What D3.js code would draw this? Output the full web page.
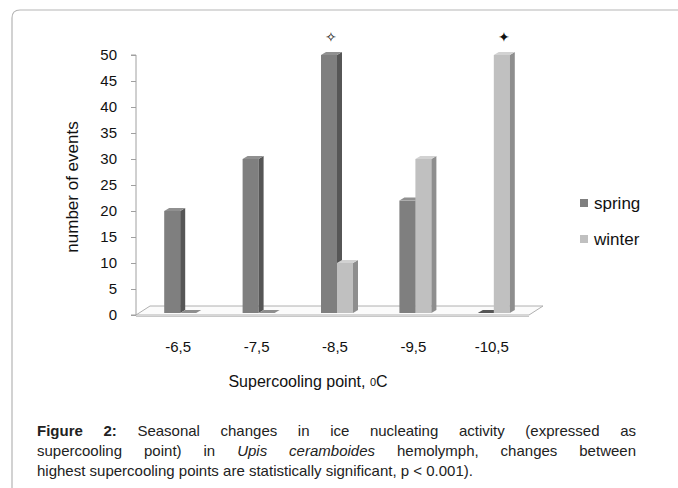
<!DOCTYPE html>
<html><head><meta charset="utf-8">
<script src="https://cdn.jsdelivr.net/npm/d3@7"></script>
<style>
html,body{margin:0;padding:0;background:#fff;}
svg text{font-family:"Liberation Sans",Arial,sans-serif;}
</style></head>
<body>
<svg id="c" width="678" height="488"></svg>
<script>
const categories = ["-6,5","-7,5","-8,5","-9,5","-10,5"];
const seriesNames = ["spring","winter"];
const spring = [20, 30, 50, 22, 0];
const winter = [0, 0, 10, 30, 50];
const yTicks = [0,5,10,15,20,25,30,35,40,45,50];
const markers = [{cat:"-8,5", series:"spring", glyph:"\u2727"}, {cat:"-10,5", series:"winter", glyph:"\u2726"}];
const yTitle = "number of events";
const xTitle = "Supercooling point, ";
const captionLines = [
  [["Figure","b"],["2:","b"],["Seasonal"],["changes"],["in"],["ice"],["nucleating"],["activity"],["(expressed"],["as"]],
  [["supercooling"],["point)"],["in"],["Upis","i"],["ceramboides","i"],["hemolymph,"],["changes"],["between"]],
  [["highest"],["supercooling"],["points"],["are"],["statistically"],["significant,"],["p"],["<"],["0.001)."]]
];

const svg = d3.select("#c");
const colors = {
  spring:{front:"#7f7f7f", side:"#565656", top:"#909090"},
  winter:{front:"#c0c0c0", side:"#8e8e8e", top:"#d2d2d2"}
};

// frame
svg.append("path")
  .attr("d","M12,700 L12,18 Q12,10 20,10 L700,10")
  .attr("fill","none").attr("stroke","#b5b5b5").attr("stroke-width",1.2);

const y = d3.scaleLinear().domain([0,50]).range([315,55]);
const x = d3.scaleBand().domain(categories).range([141,533]);
const xs = d3.scaleBand().domain(seriesNames).range([-16,16]);
const dx = 5, dy = 3;

// floor
const fl = [[136,315],[529,315],[543,306],[150,306]];
svg.append("polygon").attr("points",fl.map(p=>p.join(",")).join(" "))
  .attr("fill","#fbfbfb").attr("stroke","#b0b0b0").attr("stroke-width",1);
svg.append("line").attr("x1",136).attr("x2",529).attr("y1",316.5).attr("y2",316.5).attr("stroke","#c8c8c8");

// y axis
const yAxis = d3.axisLeft(y).tickValues(yTicks).tickSize(5).tickPadding(14);
const gy = svg.append("g").attr("transform","translate(136,0)").call(yAxis);
gy.select(".domain").attr("stroke","#a0a0a0").attr("d","M-5,55H0V315H-5");
gy.selectAll(".tick line").attr("stroke","#a0a0a0");
gy.selectAll(".tick text").attr("font-size",15).attr("fill","#111").attr("font-family","Liberation Sans, Arial, sans-serif");

// bars
const data = [];
categories.forEach((c,i)=>{
  data.push({cat:c, s:"spring", v:spring[i]});
  data.push({cat:c, s:"winter", v:winter[i]});
});
const base = y(0)-2;
const g = svg.append("g");
data.forEach(d=>{
  const x0 = x(d.cat) + x.bandwidth()/2 + xs(d.s);
  const w = xs.bandwidth();
  const yt = Math.min(y(d.v), base-1);
  const col = colors[d.s];
  if (d.v > 0) {
    g.append("rect").attr("x",x0).attr("y",yt).attr("width",w).attr("height",base-yt).attr("fill",col.front);
    g.append("polygon").attr("points",[[x0+w,yt],[x0+w+dx,yt-dy],[x0+w+dx,base-dy],[x0+w,base]].map(p=>p.join(",")).join(" ")).attr("fill",col.side);
    g.append("polygon").attr("points",[[x0,yt],[x0+dx,yt-dy],[x0+w+dx,yt-dy],[x0+w,yt]].map(p=>p.join(",")).join(" ")).attr("fill",col.top);
  } else {
    g.append("polygon").attr("points",[[x0,base],[x0+dx,base-dy],[x0+w+dx,base-dy],[x0+w,base]].map(p=>p.join(",")).join(" ")).attr("fill",col.side);
  }
});

// markers
markers.forEach(m=>{
  const xm = x(m.cat) + x.bandwidth()/2 + xs(m.series) + xs.bandwidth()/2 + 2;
  const v = m.series==="spring" ? spring[categories.indexOf(m.cat)] : winter[categories.indexOf(m.cat)];
  svg.append("text").attr("x",xm).attr("y",y(v)-13).attr("text-anchor","middle")
    .attr("font-family","DejaVu Sans").attr("font-size",14).attr("fill","#111").text(m.glyph);
});

// x labels
svg.append("g").selectAll("text").data(categories).join("text")
  .attr("x",c=>x(c)+x.bandwidth()/2-2).attr("y",352).attr("text-anchor","middle")
  .attr("font-size",15).attr("fill","#111").text(c=>c);

// x title
const xt = svg.append("text").attr("x",308).attr("y",387).attr("text-anchor","middle").attr("font-size",16).attr("fill","#111");
xt.append("tspan").text(xTitle);
xt.append("tspan").attr("font-size",11).attr("dy",-1).text("0");
xt.append("tspan").attr("dy",1).text("C");

// y title
svg.append("text").attr("transform","translate(78,187) rotate(-90)").attr("text-anchor","middle")
  .attr("font-size",17).attr("fill","#111").text(yTitle);

// legend
seriesNames.forEach((s,i)=>{
  const ly = 203 + i*36;
  svg.append("rect").attr("x",580).attr("y",ly-4).attr("width",8).attr("height",8).attr("fill",colors[s].front);
  svg.append("text").attr("x",594).attr("y",ly+6).attr("font-size",17).attr("fill","#111").text(s);
});

// caption
const cx0 = 37, cx1 = 636, cy0 = 436, lh = 20;
captionLines.forEach((words,li)=>{
  const ty = cy0 + li*lh;
  const els = words.map(w=>{
    const t = svg.append("text").attr("y",ty).attr("font-size",15).attr("fill","#222").text(w[0]);
    if (w[1]==="b") t.attr("font-weight","bold");
    if (w[1]==="i") t.attr("font-style","italic");
    return t;
  });
  const widths = els.map(e=>e.node().getComputedTextLength());
  const total = d3.sum(widths);
  const justify = li < captionLines.length-1;
  const gap = justify ? (cx1-cx0-total)/(words.length-1) : 4.2;
  let cx = cx0;
  els.forEach((e,i)=>{ e.attr("x",cx); cx += widths[i] + gap; });
});
</script>
</body></html>
